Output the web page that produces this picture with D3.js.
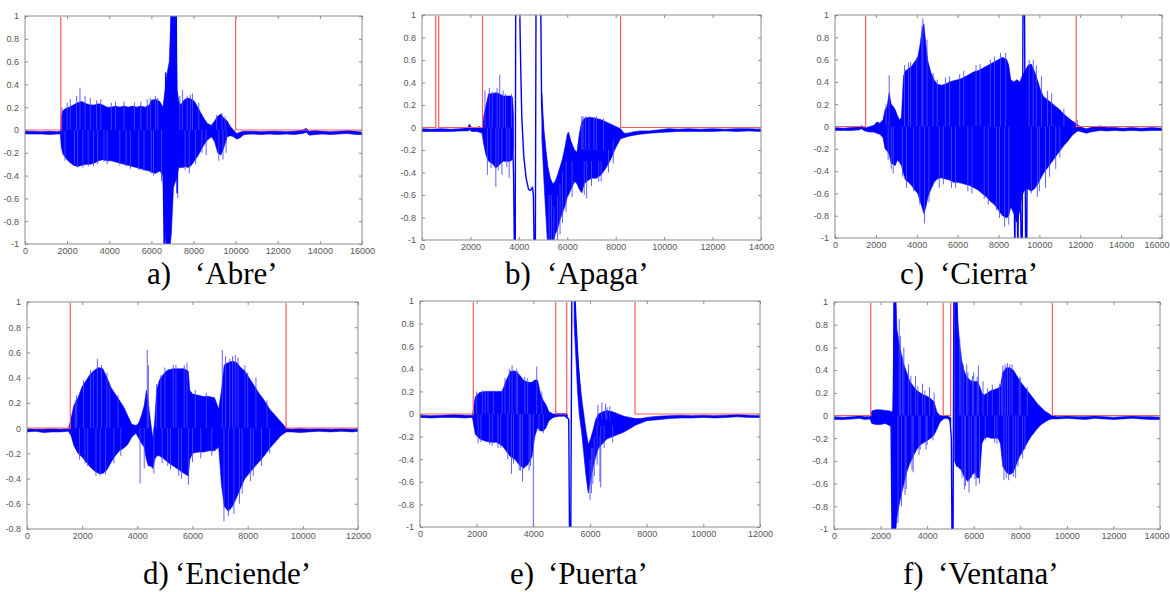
<!DOCTYPE html>
<html>
<head>
<meta charset="utf-8">
<script src="https://cdn.jsdelivr.net/npm/d3@7"></script>
<style>
  html, body { margin: 0; padding: 0; background: #fff; }
  svg { display: block; }
  .tick text { font-family: "Liberation Sans", Arial, sans-serif; font-size: 9px; fill: #555; }
  .caption { font-family: "Liberation Serif", "Times New Roman", serif; font-size: 31px; fill: #000; }
</style>
</head>
<body>
<svg id="fig" width="1170" height="592"></svg>
<script>
// ---- tick values -------------------------------------------------------
const yTicksFull = [-1, -0.8, -0.6, -0.4, -0.2, 0, 0.2, 0.4, 0.6, 0.8, 1];
const yTicksShort = [-0.8, -0.6, -0.4, -0.2, 0, 0.2, 0.4, 0.6, 0.8, 1];
const xTicks16k = [0, 2000, 4000, 6000, 8000, 10000, 12000, 14000, 16000];
const xTicks14k = [0, 2000, 4000, 6000, 8000, 10000, 12000, 14000];
const xTicks12k = [0, 2000, 4000, 6000, 8000, 10000, 12000];

// ---- 'Abre' --------------------------------------------------------------
// envelope rows: [sample, upper, lower]
const abreEnvelope = [
  [0,-0.01,-0.035],[400,-0.01,-0.035],[800,-0.015,-0.035],[1200,-0.01,-0.04],[1500,-0.015,-0.035],
  [1680,-0.01,-0.035],[1720,0.12,-0.15],[1800,0.17,-0.21],[1950,0.19,-0.25],[2100,0.2,-0.28],
  [2300,0.22,-0.31],[2500,0.24,-0.32],[2700,0.25,-0.31],[2900,0.23,-0.3],[3100,0.22,-0.3],
  [3300,0.22,-0.29],[3500,0.23,-0.27],[3700,0.22,-0.26],[3900,0.2,-0.27],[4100,0.2,-0.27],
  [4300,0.21,-0.28],[4500,0.2,-0.29],[4700,0.21,-0.3],[4900,0.2,-0.31],[5100,0.21,-0.32],
  [5300,0.2,-0.33],[5500,0.21,-0.34],[5700,0.2,-0.35],[5900,0.22,-0.36],[6000,0.26,-0.37],
  [6200,0.27,-0.38],[6400,0.25,-0.36],[6550,0.2,-0.4],[6650,0.35,-0.9],[6750,0.5,-1.1],
  [6850,0.6,-1.1],[6950,1.1,-0.9],[7050,1.1,-0.5],[7150,1.1,-0.45],[7220,0.35,-0.4],
  [7300,0.25,-0.33],[7400,0.22,-0.33],[7500,0.25,-0.33],[7600,0.27,-0.32],[7750,0.28,-0.33],
  [7900,0.27,-0.31],[8050,0.25,-0.27],[8200,0.2,-0.23],[8350,0.15,-0.18],[8500,0.1,-0.13],
  [8650,0.06,-0.09],[8850,0.04,-0.06],[9000,0.08,-0.1],[9150,0.12,-0.2],[9300,0.14,-0.22],
  [9450,0.1,-0.15],[9600,0.08,-0.06],[9750,0.03,-0.05],[9900,0.0,-0.06],[10050,-0.03,-0.08],
  [10200,-0.02,-0.07],[10400,-0.01,-0.04],[10800,-0.01,-0.035],[11200,-0.015,-0.04],
  [11600,-0.01,-0.035],[12000,-0.01,-0.04],[12400,-0.015,-0.035],[12800,-0.01,-0.04],
  [13200,0.0,-0.03],[13350,0.015,-0.02],[13500,-0.01,-0.045],[13800,-0.005,-0.04],
  [14100,-0.01,-0.035],[14500,-0.015,-0.04],[14900,-0.01,-0.035],[15300,-0.005,-0.03],
  [15700,-0.01,-0.04],[16000,-0.02,-0.04]
];
// spike rows: [sample, from, to]
const abreSpikes = [
  [1750,0,0.2],[1900,0,-0.27],[2000,0,0.24],[2150,0,0.27],[2350,0,-0.3],[2450,0,0.3],
  [2500,0,-0.33],[2610,0,0.37],[2750,0,-0.33],[2850,0,0.3],[3000,0,-0.32],[3100,0,0.28],
  [3250,0,-0.32],[3400,0,0.26],[3450,0,-0.3],[3600,0,0.27],[3750,0,-0.28],[3900,0,-0.3],
  [4100,0,0.24],[4300,0,0.25],[4500,0,-0.31],[4700,0,0.25],[4800,0,-0.32],[5000,0,-0.34],
  [5200,0,0.24],[5400,0,-0.35],[5500,0,0.25],[5650,0,-0.36],[5800,0,0.27],[5950,0,0.28],
  [6000,0,-0.38],[6100,0,-0.4],[6200,0,0.3],[6300,0,0.28],[6480,0,-0.45],[7250,0,-0.6],
  [7350,0,0.3],[7480,0,0.35],[7600,0,-0.35],[7700,0,0.3],[7800,0,-0.38],[7850,0,0.31],
  [7950,0,0.32],[8100,0,-0.3],[8250,0,0.24],[8400,0,-0.2],[8600,0,-0.22],[9100,0,0.13],
  [9200,0,-0.27],[9350,0,0.15],[9400,0,-0.26],[9500,0,0.12],[9550,0,-0.2]
];
// large excursions: [sample, value], null breaks the line
const abreTrace = [
  [6560,-0.3],[6620,-1.2],[6680,0.5],[6720,-1.2],[6780,-1.2],[6800,0.3],[6880,-0.9],
  [6950,1.2],[7000,1.2],[7050,-0.4],[7100,1.2],[7180,1.2],[7220,-0.55],[7280,0.1]
];
// detector output: [sample, level] (step)
const abreVad = [[0,0],[1700,1],[10000,0],[16000,0]];

// ---- 'Apaga' -------------------------------------------------------------
const apagaEnvelope = [
  [0,-0.01,-0.035],[400,-0.015,-0.035],[800,-0.01,-0.035],[1200,-0.015,-0.035],[1600,-0.01,-0.03],
  [1900,0.0,-0.03],[1950,0.03,-0.02],[2050,0.0,-0.035],[2250,-0.005,-0.035],[2350,0.01,-0.04],
  [2480,-0.01,-0.05],[2550,0.1,-0.15],[2650,0.2,-0.25],[2750,0.3,-0.3],[2900,0.3,-0.32],
  [3050,0.31,-0.36],[3200,0.3,-0.33],[3350,0.28,-0.3],[3500,0.28,-0.3],[3650,0.28,-0.3],
  [3740,0.27,-0.28],[3780,0.1,-0.15],[3790,null,null],
  [4950,0.3,-0.1],[5030,0.0,-0.45],[5120,-0.2,-0.8],[5200,-0.35,-1.1],[5300,-0.45,-1.1],
  [5400,-0.5,-1.05],[5500,-0.48,-0.95],[5600,-0.42,-0.9],[5700,-0.35,-0.82],[5800,-0.28,-0.76],
  [5900,-0.18,-0.7],[6000,-0.06,-0.62],[6050,-0.04,-0.6],[6150,-0.12,-0.55],[6300,-0.2,-0.48],
  [6400,-0.22,-0.5],[6500,-0.05,-0.55],[6600,0.05,-0.58],[6700,0.08,-0.5],[6850,0.09,-0.47],
  [7000,0.09,-0.45],[7200,0.08,-0.45],[7400,0.07,-0.42],[7600,0.05,-0.36],[7800,0.03,-0.28],
  [8000,0.01,-0.18],[8200,-0.01,-0.1],[8350,-0.05,-0.09],[8500,-0.05,-0.08],[8700,-0.04,-0.07],
  [9000,-0.03,-0.06],[9400,-0.03,-0.05],[9800,-0.02,-0.045],[10200,-0.01,-0.04],
  [10600,-0.015,-0.035],[11000,-0.01,-0.035],[11500,-0.015,-0.035],[12000,-0.01,-0.035],
  [12500,-0.015,-0.03],[13000,-0.01,-0.035],[13500,-0.01,-0.03],[14000,-0.015,-0.035]
];
const apagaSpikes = [
  [2600,0,0.33],[2700,0,-0.42],[2780,0,0.35],[2850,0,-0.36],[2900,0,0.32],[3050,0,-0.53],
  [3100,0,0.35],[3150,0,-0.38],[3210,0,0.47],[3300,0,-0.42],[3350,0,0.33],[3450,0,0.3],
  [3500,0,-0.35],[3600,0,-0.45],[3700,0,0.3],
  [5250,-0.6,-1.1],[5350,-0.6,-1.1],[5450,-0.7,-1.1],[5600,-0.6,-1.1],[5700,-0.5,-0.95],
  [5800,-0.4,-0.85],[5950,-0.3,-0.75],[6200,-0.3,-0.62],[6600,-0.2,0.1],[6650,-0.2,0.1],
  [6700,-0.3,-0.6],[6750,-0.2,0.1],[6800,-0.3,-0.63],[6900,-0.2,0.1],[7000,-0.3,-0.52],
  [7100,-0.2,0.09],[7200,-0.2,0.1],[7300,-0.3,-0.48],[7400,-0.3,-0.48],[7500,-0.2,0.08],
  [7700,-0.2,-0.4],[7900,-0.1,-0.32]
];
const apagaTrace = [
  [3720,0.0],[3780,-0.4],[3820,-1.2],[3850,-1.2],[3870,1.2],[3980,1.2],[4040,1.0],[4080,0.5],
  [4120,0.1],[4200,-0.25],[4300,-0.45],[4400,-0.55],[4480,-0.56],[4560,-0.53],[4600,-0.6],
  [4640,-1.2],[4680,-1.2],[4710,1.2],[4900,1.2],[4940,0.2],[5000,0.0]
];
const apagaVad = [[0,0],[570,1],[690,0],[2500,1],[8200,0],[14000,0]];

// ---- 'Cierra' ------------------------------------------------------------
const cierraEnvelope = [
  [0,-0.01,-0.035],[400,-0.015,-0.035],[800,-0.01,-0.035],[1200,-0.005,-0.03],[1300,0.01,-0.02],
  [1400,-0.01,-0.035],[1550,-0.01,-0.045],[1700,0.0,-0.05],[1900,0.01,-0.05],[2050,0.04,-0.06],
  [2200,0.03,-0.07],[2350,0.06,-0.1],[2450,0.15,-0.2],[2550,0.18,-0.22],[2650,0.3,-0.25],
  [2750,0.2,-0.33],[2850,0.18,-0.34],[2950,0.15,-0.35],[3050,0.1,-0.3],[3150,0.06,-0.32],
  [3250,0.08,-0.35],[3350,0.45,-0.42],[3450,0.5,-0.48],[3600,0.52,-0.5],[3750,0.54,-0.53],
  [3900,0.58,-0.57],[4050,0.62,-0.6],[4150,0.72,-0.66],[4250,0.85,-0.72],[4350,0.92,-0.78],
  [4450,0.72,-0.72],[4550,0.58,-0.63],[4700,0.48,-0.56],[4850,0.42,-0.5],[5000,0.38,-0.47],
  [5200,0.37,-0.46],[5400,0.38,-0.47],[5600,0.4,-0.48],[5800,0.41,-0.5],[6000,0.42,-0.5],
  [6200,0.43,-0.51],[6400,0.45,-0.52],[6600,0.47,-0.53],[6800,0.49,-0.55],[7000,0.5,-0.57],
  [7200,0.52,-0.6],[7400,0.54,-0.63],[7600,0.56,-0.67],[7800,0.58,-0.7],[8000,0.6,-0.75],
  [8200,0.62,-0.8],[8400,0.6,-0.82],[8500,0.55,-0.8],[8600,0.42,-0.72],[8750,0.4,-0.78],
  [8900,0.42,-0.86],[9050,0.4,-0.75],[9150,0.45,-0.62],[9300,0.5,-0.56],[9450,0.55,-0.56],
  [9600,0.56,-0.58],[9750,0.5,-0.56],[9900,0.42,-0.52],[10050,0.33,-0.47],[10200,0.27,-0.42],
  [10400,0.24,-0.37],[10600,0.21,-0.32],[10800,0.18,-0.27],[11000,0.15,-0.22],[11200,0.11,-0.17],
  [11400,0.08,-0.13],[11600,0.05,-0.08],[11800,0.03,-0.05],[11900,0.01,-0.04],[12100,-0.01,-0.05],
  [12300,-0.02,-0.06],[12500,-0.01,-0.05],[12800,0.0,-0.04],[13000,0.005,-0.035],
  [13300,-0.01,-0.04],[13700,-0.01,-0.035],[14100,-0.015,-0.04],[14500,-0.01,-0.035],
  [15000,-0.015,-0.04],[15500,-0.01,-0.035],[16000,-0.015,-0.035]
];
const cierraSpikes = [
  [2500,0,0.2],[2600,0,-0.3],[2650,0,0.46],[2750,0,-0.38],[2850,0,-0.42],[3300,0,-0.45],
  [3400,0,0.55],[3500,0,-0.55],[3600,0,0.57],[3700,0,0.58],[3850,0,-0.58],[4000,0,0.62],
  [4150,0,-0.7],[4250,0,0.9],[4300,0,0.97],[4380,0,-0.87],[4500,0,0.78],[4600,0,-0.68],
  [4800,0,0.48],[5000,0,0.42],[5100,0,-0.55],[5300,0,-0.52],[5400,0,0.44],[5600,0,0.45],
  [5700,0,-0.55],[5900,0,-0.55],[6100,0,0.47],[6300,0,0.5],[6500,0,-0.58],[6700,0,-0.6],
  [6900,0,0.55],[7100,0,0.56],[7300,0,-0.65],[7500,0,-0.7],[7600,0,0.6],[7800,0,0.63],
  [7900,0,-0.75],[8050,0,-0.82],[8100,0,0.66],[8300,0,-0.9],[8350,0,0.66],[8500,0,-0.88],
  [9500,0,0.6],[9600,0,-0.6],[9700,0,0.6],[9850,0,0.55],[9900,0,-0.63],[10000,0,-0.58],
  [10100,0,0.45],[10300,0,-0.55],[10400,0,0.32],[10500,0,-0.45],[10600,0,0.3],[10800,0,-0.38],
  [11000,0,-0.28],[11200,0,0.16],[11850,0,0.06]
];
const cierraTrace = [
  [8750,-0.2],[8800,-1.2],[8850,0.3],[8950,-1.2],[9000,0.3],[9120,-1.2],[9160,-1.2],
  [9200,1.2],[9270,1.2],[9330,-1.2],[9380,-1.2],[9420,0.3]
];
const cierraVad = [[0,0],[1500,1],[11800,0],[16000,0]];

// ---- 'Enciende' ----------------------------------------------------------
const enciendeEnvelope = [
  [0,-0.005,-0.03],[300,-0.01,-0.025],[600,-0.01,-0.035],[900,-0.005,-0.03],[1200,-0.01,-0.03],
  [1500,-0.005,-0.025],[1600,0.08,-0.06],[1700,0.18,-0.14],[1850,0.24,-0.2],[2000,0.33,-0.23],
  [2150,0.38,-0.27],[2300,0.43,-0.31],[2450,0.46,-0.34],[2600,0.48,-0.36],[2750,0.47,-0.36],
  [2900,0.4,-0.33],[3050,0.32,-0.27],[3200,0.27,-0.22],[3350,0.22,-0.18],[3500,0.17,-0.16],
  [3650,0.1,-0.13],[3800,0.03,-0.07],[3950,0.02,-0.04],[4050,0.04,-0.08],[4150,0.1,-0.12],
  [4250,0.18,-0.15],[4330,0.3,-0.25],[4400,0.2,-0.3],[4480,0.05,-0.3],[4560,-0.08,-0.32],
  [4630,0.05,-0.25],[4700,0.3,-0.22],[4800,0.38,-0.22],[4950,0.43,-0.24],[5100,0.46,-0.27],
  [5300,0.47,-0.3],[5500,0.47,-0.33],[5700,0.47,-0.36],[5850,0.45,-0.38],[5900,0.3,-0.25],
  [6000,0.27,-0.2],[6200,0.26,-0.19],[6400,0.25,-0.19],[6600,0.25,-0.18],[6800,0.24,-0.18],
  [6950,0.15,-0.15],[7050,0.3,-0.45],[7150,0.5,-0.62],[7300,0.52,-0.66],[7450,0.53,-0.62],
  [7600,0.52,-0.55],[7750,0.48,-0.47],[7900,0.45,-0.4],[8050,0.4,-0.36],[8200,0.35,-0.32],
  [8400,0.28,-0.27],[8600,0.22,-0.22],[8800,0.15,-0.16],[9000,0.1,-0.11],[9200,0.05,-0.06],
  [9400,0.0,-0.03],[9600,-0.01,-0.03],[9900,0.0,-0.035],[10200,-0.01,-0.03],[10600,-0.005,-0.025],
  [11000,-0.01,-0.03],[11400,-0.005,-0.025],[11800,-0.01,-0.03],[12000,-0.01,-0.025]
];
const enciendeSpikes = [
  [1750,0,0.22],[1800,0,0.26],[1900,0,-0.25],[2050,0,0.38],[2100,0,-0.28],[2200,0,-0.3],
  [2300,0,0.46],[2400,0,0.45],[2500,0,-0.38],[2550,0,0.55],[2650,0,-0.38],[2700,0,0.5],
  [2850,0,-0.37],[2900,0,0.44],[3000,0,0.35],[3150,0,-0.28],[3300,0,0.26],[3400,0,-0.22],
  [4100,0,-0.44],[4250,0,-0.32],[4360,0,0.62],[4400,0,0.5],[4600,0,-0.36],[4700,0,0.35],
  [4850,0,0.42],[4900,0,-0.28],[5000,0,0.48],[5100,0,-0.3],[5200,0,-0.33],[5300,0,0.5],
  [5400,0,0.5],[5500,0,-0.38],[5600,0,-0.4],[5700,0,0.5],[5800,0,0.52],[5850,0,-0.45],
  [6000,0,-0.27],[6100,0,0.3],[6300,0,-0.24],[6500,0,0.28],[6700,0,-0.22],[7080,0,0.62],
  [7140,0,-0.74],[7200,0,0.57],[7300,0,-0.7],[7350,0,0.55],[7450,0,0.57],[7500,0,-0.68],
  [7550,0,0.58],[7650,0,0.56],[7700,0,-0.6],[7800,0,-0.52],[7900,0,0.5],[8000,0,0.44],
  [8100,0,-0.42],[8200,0,-0.38],[8300,0,0.4],[8500,0,-0.3],[8700,0,0.22],[8800,0,-0.2]
];
const enciendeTrace = [];
const enciendeVad = [[0,0],[1570,1],[9390,0],[12000,0]];

// ---- 'Puerta' ------------------------------------------------------------
const puertaEnvelope = [
  [0,-0.01,-0.03],[400,-0.015,-0.035],[800,-0.01,-0.03],[1200,-0.005,-0.03],[1600,-0.01,-0.035],
  [1850,-0.01,-0.03],[1950,0.15,-0.18],[2100,0.19,-0.22],[2300,0.2,-0.24],[2500,0.2,-0.25],
  [2700,0.2,-0.25],[2900,0.2,-0.28],[3050,0.3,-0.33],[3200,0.38,-0.38],[3350,0.38,-0.4],
  [3500,0.35,-0.45],[3650,0.3,-0.48],[3800,0.28,-0.45],[3950,0.28,-0.38],[4050,0.3,-0.2],
  [4150,0.3,-0.12],[4250,0.18,-0.15],[4350,0.12,-0.15],[4450,0.08,-0.12],[4550,0.02,-0.06],
  [4700,0.0,-0.03],[4900,0.005,-0.02],[5100,0.005,-0.02],[5200,0.0,-0.04],[5230,null,null],
  [5440,1.1,0.8],[5500,0.8,0.5],[5560,0.5,0.2],[5620,0.35,0.0],[5700,0.15,-0.15],
  [5780,0.0,-0.35],[5860,-0.15,-0.55],[5940,-0.27,-0.7],[6020,-0.22,-0.58],[6100,-0.15,-0.48],
  [6200,-0.05,-0.38],[6300,0.0,-0.3],[6450,0.02,-0.26],[6600,0.03,-0.22],[6800,0.02,-0.2],
  [7000,0.0,-0.18],[7200,-0.02,-0.16],[7400,-0.03,-0.13],[7600,-0.04,-0.1],[7800,-0.04,-0.08],
  [8000,-0.03,-0.06],[8400,-0.02,-0.05],[8800,-0.015,-0.04],[9200,-0.01,-0.035],
  [9600,-0.015,-0.035],[10000,-0.01,-0.03],[10400,-0.015,-0.035],[10800,-0.01,-0.03],
  [11200,-0.005,-0.025],[11600,-0.01,-0.03],[12000,-0.015,-0.03]
];
const puertaSpikes = [
  [2000,0,0.2],[2050,0,-0.26],[2150,0,-0.25],[2200,0,0.21],[2300,0,0.2],[2400,0,0.2],
  [2450,0,-0.27],[2550,0,-0.28],[2600,0,0.19],[2750,0,-0.3],[2850,0,-0.3],[2900,0,0.22],
  [3000,0,0.32],[3100,0,-0.4],[3150,0,0.4],[3230,0,-0.53],[3250,0,0.43],[3300,0,-0.44],
  [3400,0,0.4],[3450,0,0.38],[3500,0,-0.5],[3550,0,-0.5],[3620,0,-0.6],[3700,0,0.33],
  [3800,0,0.32],[3850,0,-0.5],[3900,0,-0.46],[4000,0,-1.1],[4120,0,0.42],[4200,0,-0.15],
  [4300,0,0.2],[4350,0,-0.17],
  [6000,-0.4,-0.76],[6050,-0.3,-0.7],[6100,-0.3,-0.62],[6150,-0.2,-0.55],[6250,-0.1,-0.45],
  [6280,-0.1,0.08],[6350,-0.2,-0.6],[6380,-0.1,-0.65],[6420,-0.05,0.1],[6500,-0.1,-0.3],
  [6550,-0.05,0.09],[6600,-0.05,0.06],[6700,-0.05,0.07],[6800,-0.1,-0.25]
];
const puertaTrace = [
  [5200,-0.03],[5250,-0.05],[5280,-1.2],[5320,-1.2],[5360,1.2],[5440,1.2],[5500,0.85],
  [5560,0.55],[5620,0.3],[5700,0.05],[5820,-0.3],[5940,-0.62]
];
const puertaVad = [[0,0],[1880,1],[4790,0],[5180,1],[7590,0],[12000,0]];

// ---- 'Ventana' -----------------------------------------------------------
const ventanaEnvelope = [
  [0,-0.01,-0.035],[400,-0.015,-0.035],[800,-0.01,-0.03],[1100,0.0,-0.025],[1300,-0.01,-0.035],
  [1550,-0.01,-0.03],[1620,0.04,-0.07],[1800,0.05,-0.08],[2000,0.05,-0.08],[2200,0.045,-0.07],
  [2400,0.04,-0.09],[2480,0.03,-0.1],[2520,0.05,-1.1],[2600,1.1,-1.1],[2660,1.05,-1.0],
  [2700,0.76,-0.9],[2830,0.6,-0.75],[2980,0.46,-0.62],[3120,0.38,-0.5],[3260,0.3,-0.42],
  [3400,0.26,-0.36],[3550,0.22,-0.3],[3700,0.2,-0.26],[3850,0.18,-0.24],[4000,0.17,-0.22],
  [4150,0.15,-0.2],[4300,0.12,-0.17],[4420,0.03,-0.12],[4550,0.0,-0.06],[4700,-0.005,-0.03],
  [4850,0.0,-0.025],[4960,-0.01,-0.04],[5020,-0.02,-0.08],[5030,null,null],
  [5180,1.1,-0.4],[5260,1.05,-0.45],[5330,0.8,-0.45],[5400,0.62,-0.47],[5470,0.5,-0.48],
  [5550,0.42,-0.52],[5650,0.36,-0.56],[5750,0.33,-0.58],[5850,0.31,-0.55],[5950,0.3,-0.52],
  [6050,0.3,-0.5],[6150,0.3,-0.55],[6250,0.26,-0.55],[6350,0.2,-0.25],[6450,0.18,-0.2],
  [6600,0.2,-0.19],[6750,0.22,-0.2],[6900,0.23,-0.2],[7050,0.24,-0.2],[7150,0.26,-0.25],
  [7250,0.38,-0.45],[7400,0.42,-0.5],[7550,0.42,-0.52],[7700,0.4,-0.5],[7850,0.35,-0.42],
  [8000,0.3,-0.35],[8150,0.26,-0.3],[8300,0.22,-0.24],[8450,0.18,-0.19],[8600,0.14,-0.15],
  [8750,0.1,-0.11],[8900,0.07,-0.08],[9050,0.04,-0.06],[9200,0.02,-0.04],[9350,0.0,-0.03],
  [9600,-0.01,-0.03],[10000,-0.005,-0.025],[10400,-0.01,-0.03],[10800,-0.01,-0.035],
  [11200,-0.005,-0.025],[11600,-0.01,-0.03],[12000,-0.015,-0.035],[12400,-0.01,-0.03],
  [12800,-0.005,-0.025],[13200,-0.01,-0.03],[13600,-0.01,-0.035],[14000,-0.015,-0.035]
];
const ventanaSpikes = [
  [2750,0,-0.95],[2800,0,0.85],[2850,0,0.7],[2900,0,-0.8],[2950,0,0.52],[3000,0,0.6],
  [3050,0,-0.7],[3100,0,-0.65],[3200,0,0.45],[3300,0,0.35],[3350,0,-0.48],[3400,0,-0.5],
  [3500,0,0.35],[3600,0,0.26],[3650,0,-0.35],[3700,0,-0.3],[3800,0,0.28],[3900,0,0.22],
  [3950,0,-0.3],[4000,0,-0.26],[4100,0,0.25],[4250,0,-0.22],[4300,0,0.2],
  [5400,0,0.68],[5450,0,0.56],[5500,0,-0.55],[5550,0,0.45],[5600,0,-0.65],[5650,0,-0.62],
  [5700,0,0.45],[5750,0,0.38],[5800,0,-0.68],[5900,0,-0.55],[5950,0,0.35],[6000,0,0.38],
  [6050,0,-0.56],[6100,0,-0.62],[6150,0,0.34],[6200,0,0.44],[6250,0,-0.6],[6400,0,0.3],
  [6500,0,-0.22],[6600,0,0.24],[6800,0,0.27],[6900,0,-0.24],[7000,0,-0.25],[7100,0,0.28],
  [7200,0,0.3],[7250,0,0.44],[7300,0,-0.57],[7350,0,0.45],[7400,0,-0.55],[7450,0,0.46],
  [7500,0,-0.57],[7550,0,0.45],[7650,0,0.45],[7700,0,-0.54],[7800,0,-0.55],[7900,0,-0.45],
  [7950,0,0.33],[8000,0,0.34],[8100,0,-0.38],[8200,0,-0.3],[8300,0,0.25]
];
const ventanaTrace = [
  [2450,-0.05],[2500,-1.2],[2540,-1.2],[2580,1.2],[2620,1.2],[2660,0.5],[2670,null],
  [4980,-0.03],[5040,-0.2],[5070,-1.2],[5110,-1.2],[5150,1.2],[5250,1.2],[5300,0.8]
];
const ventanaVad = [[0,0],[1580,1],[4690,0],[5010,1],[9380,0],[14000,0]];

// ---- panel layout --------------------------------------------------------
const panels = [
  { id: "a", tag: "a)", word: "\u2018Abre\u2019", env: abreEnvelope, spikes: abreSpikes, trace: abreTrace, vad: abreVad,
    xMax: 16000, xTicks: xTicks16k, yMin: -1, yTicks: yTicksFull,
    box: [25, 16, 362, 244], tagX: 147, wordX: 195, capY: 284 },
  { id: "b", tag: "b)", word: "\u2018Apaga\u2019", env: apagaEnvelope, spikes: apagaSpikes, trace: apagaTrace, vad: apagaVad,
    xMax: 14000, xTicks: xTicks14k, yMin: -1, yTicks: yTicksFull,
    box: [422, 15, 761, 240], tagX: 505, wordX: 547, capY: 284 },
  { id: "c", tag: "c)", word: "\u2018Cierra\u2019", env: cierraEnvelope, spikes: cierraSpikes, trace: cierraTrace, vad: cierraVad,
    xMax: 16000, xTicks: xTicks16k, yMin: -1, yTicks: yTicksFull,
    box: [835, 15, 1162, 238], tagX: 900, wordX: 940, capY: 284 },
  { id: "d", tag: "d)", word: "\u2018Enciende\u2019", env: enciendeEnvelope, spikes: enciendeSpikes, trace: enciendeTrace, vad: enciendeVad,
    xMax: 12000, xTicks: xTicks12k, yMin: -0.8, yTicks: yTicksShort,
    box: [27, 302, 358, 529], tagX: 143, wordX: 175, capY: 584 },
  { id: "e", tag: "e)", word: "\u2018Puerta\u2019", env: puertaEnvelope, spikes: puertaSpikes, trace: puertaTrace, vad: puertaVad,
    xMax: 12000, xTicks: xTicks12k, yMin: -1, yTicks: yTicksFull,
    box: [420, 301, 760, 527], tagX: 510, wordX: 548, capY: 584 },
  { id: "f", tag: "f)", word: "\u2018Ventana\u2019", env: ventanaEnvelope, spikes: ventanaSpikes, trace: ventanaTrace, vad: ventanaVad,
    xMax: 14000, xTicks: xTicks14k, yMin: -1, yTicks: yTicksFull,
    box: [834, 302, 1160, 529], tagX: 903, wordX: 938, capY: 584 }
];

const WIDTH = 1170;
const BLUE = "#0000ff";
const RED = "#ff5a5a";
const FRAME = "#8c8c8c";

const svg = d3.select("#fig");
const defs = svg.append("defs");

panels.forEach(p => {
  const [left, top, right, bottom] = p.box;
  const x = d3.scaleLinear().domain([0, p.xMax]).range([left, right]);
  const y = d3.scaleLinear().domain([p.yMin, 1]).range([bottom, top]);

  defs.append("clipPath").attr("id", "clip-" + p.id)
    .append("rect").attr("x", left).attr("y", top)
    .attr("width", right - left).attr("height", bottom - top);
  // the decision line sits on the upper frame edge when it is high; keep it under the frame
  defs.append("clipPath").attr("id", "clipv-" + p.id)
    .append("rect").attr("x", left).attr("y", top + 1)
    .attr("width", right - left).attr("height", bottom - top - 1);

  const g = svg.append("g");
  const plot = g.append("g").attr("clip-path", `url(#clip-${p.id})`);

  // waveform envelope
  const area = d3.area()
    .defined(d => d[1] !== null)
    .x(d => x(d[0])).y0(d => y(d[2])).y1(d => y(d[1]));
  plot.append("path").datum(p.env).attr("d", area)
    .attr("fill", BLUE).attr("stroke", BLUE).attr("stroke-width", 0.6)
    .attr("stroke-linejoin", "round");

  // pitch-pulse spikes
  plot.selectAll("line.spike").data(p.spikes).join("line")
    .attr("class", "spike")
    .attr("x1", d => x(d[0])).attr("x2", d => x(d[0]))
    .attr("y1", d => y(d[1])).attr("y2", d => y(d[2]))
    .attr("stroke", "#4848ff").attr("stroke-width", 1).attr("opacity", 0.85);

  // large excursions
  if (p.trace.length) {
    const line = d3.line().defined(d => d[1] !== null)
      .x(d => x(d[0])).y(d => y(d[1]));
    plot.append("path").datum(p.trace).attr("d", line)
      .attr("fill", "none").attr("stroke", BLUE).attr("stroke-width", 1.4)
      .attr("stroke-linejoin", "round");
  }

  // speech / silence decision
  const step = d3.line().curve(d3.curveStepAfter).x(d => x(d[0])).y(d => y(d[1]));
  g.append("g").attr("clip-path", `url(#clipv-${p.id})`)
    .append("path").datum(p.vad).attr("d", step)
    .attr("fill", "none").attr("stroke", RED).attr("stroke-width", 1.2);

  // axes with inward ticks on all four sides
  const fmt = d => String(d);
  const axL = g.append("g").attr("transform", `translate(${left},0)`)
    .call(d3.axisLeft(y).tickValues(p.yTicks).tickFormat(fmt).tickSize(-3).tickPadding(6));
  const axR = g.append("g").attr("transform", `translate(${right},0)`)
    .call(d3.axisRight(y).tickValues(p.yTicks).tickFormat("").tickSize(-3));
  const axB = g.append("g").attr("transform", `translate(0,${bottom})`)
    .call(d3.axisBottom(x).tickValues(p.xTicks).tickFormat(fmt).tickSize(-3).tickPadding(4));
  const axT = g.append("g").attr("transform", `translate(0,${top})`)
    .call(d3.axisTop(x).tickValues(p.xTicks).tickFormat("").tickSize(-3));
  [axL, axR, axB, axT].forEach(a => {
    a.select(".domain").remove();
    a.selectAll(".tick line").attr("stroke", FRAME);
  });

  // keep the last x label inside the page edge
  axB.selectAll(".tick text").each(function (d) {
    const t = d3.select(this);
    const w = this.getComputedTextLength();
    const over = x(d) + w / 2 - (WIDTH - 1);
    if (over > 0) t.attr("dx", -over);
  });

  g.append("rect").attr("x", left).attr("y", top)
    .attr("width", right - left).attr("height", bottom - top)
    .attr("fill", "none").attr("stroke", FRAME).attr("stroke-width", 1);

  // caption
  g.append("text").attr("class", "caption").attr("x", p.tagX).attr("y", p.capY).text(p.tag);
  g.append("text").attr("class", "caption").attr("x", p.wordX).attr("y", p.capY).text(p.word);
});
</script>
</body>
</html>
